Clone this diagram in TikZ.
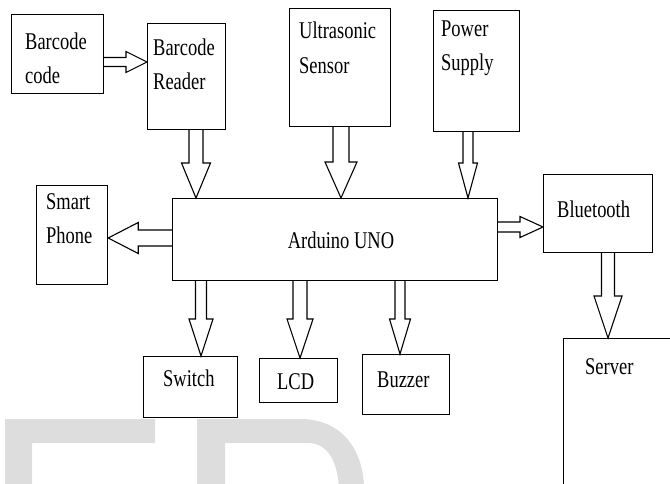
\documentclass[tikz,border=0pt]{standalone}
\usepackage{fontspec}
\setmainfont{Liberation Serif}[FakeStretch=0.77]
\usetikzlibrary{calc}
\definecolor{wmgray}{RGB}{221,221,221}
\tikzset{
  box/.style={draw, line width=1.2pt, inner sep=0pt, anchor=north west},
  lbl/.style={inner sep=0pt, anchor=base west, font=\fontsize{24pt}{34pt}\selectfont},
  arrowline/.style={draw, line width=1.1pt, line join=miter},
  wm/.style={fill=wmgray, draw=none}
}
\newcommand\blockarrow[5]{%
  \coordinate (ba-s) at #1;
  \coordinate (ba-e) at #2;
  \coordinate (ba-h) at ($(ba-e)!#5!(ba-s)$);
  \path[arrowline] ($(ba-s)!#3!90:(ba-e)$) -- ($(ba-h)!#3!90:(ba-e)$)
    -- ($(ba-h)!#4!90:(ba-e)$) -- (ba-e) -- ($(ba-h)!#4!-90:(ba-e)$)
    -- ($(ba-h)!#3!-90:(ba-e)$) -- ($(ba-s)!#3!-90:(ba-e)$);}
\begin{document}
\begin{tikzpicture}[x=1pt,y=-1pt]
\useasboundingbox (0,0) rectangle (670,483);
\clip (0,0) rectangle (670,483);
% watermark
\fill[wm] (5,490) -- (5,419) -- (155,419) -- (155,443) -- (32,443) -- (32,490) -- cycle;
\fill[wm] (197,490) -- (197,419) -- (300,419) .. controls (342,419) and (364,450) .. (364,490)
  -- (339,490) .. controls (338,462) and (328,443) .. (308,443) -- (225,443) -- (225,490) -- cycle;
% boxes
\node[box, minimum width=92pt, minimum height=79pt] (bc) at (11,14) {};
\node[box, minimum width=78pt, minimum height=106pt] (rd) at (147,23) {};
\node[box, minimum width=101pt, minimum height=118pt] (us) at (289,8) {};
\node[box, minimum width=86pt, minimum height=121pt] (ps) at (433,10) {};
\node[box, minimum width=71pt, minimum height=99pt] (sp) at (36,185) {};
\node[box, minimum width=325pt, minimum height=82pt] (ard) at (172,198) {};
\node[box, minimum width=109pt, minimum height=78pt] (bt) at (543,174) {};
\node[box, minimum width=94pt, minimum height=61pt] (sw) at (143,356) {};
\node[box, minimum width=78pt, minimum height=44pt] (lcd) at (259,358) {};
\node[box, minimum width=87pt, minimum height=60pt] (bz) at (362,354) {};
\node[box, minimum width=130pt, minimum height=170pt] (sv) at (563,338) {};
% labels
\node[lbl] (bc-a) at ($(bc.north west)+(14,35)$) {Barcode};
\node[lbl] (bc-b) at ($(bc.north west)+(14,69)$) {code};
\node[lbl] (rd-a) at ($(rd.north west)+(6,32)$) {Barcode};
\node[lbl] (rd-b) at ($(rd.north west)+(6,66)$) {Reader};
\node[lbl] (us-a) at ($(us.north west)+(10,30)$) {Ultrasonic};
\node[lbl] (us-b) at ($(us.north west)+(10,65)$) {Sensor};
\node[lbl] (ps-a) at ($(ps.north west)+(8,26)$) {Power};
\node[lbl] (ps-b) at ($(ps.north west)+(8,60)$) {Supply};
\node[lbl] (sp-a) at ($(sp.north west)+(10,24)$) {Smart};
\node[lbl] (sp-b) at ($(sp.north west)+(10,58)$) {Phone};
\node[lbl, anchor=base] (ard-a) at ($(ard.north west)+(169,50)$) {Arduino UNO};
\node[lbl] (bt-a) at ($(bt.north west)+(14,43)$) {Bluetooth};
\node[lbl] (sw-a) at ($(sw.north west)+(20,30)$) {Switch};
\node[lbl] (lcd-a) at ($(lcd.north west)+(18,31)$) {LCD};
\node[lbl] (bz-a) at ($(bz.north west)+(15,33)$) {Buzzer};
\node[lbl] (sv-a) at ($(sv.north west)+(22,36)$) {Server};
% block arrows
\blockarrow{($(bc.north east)+(0,48)$)}{($(rd.north west)+(0,39)$)}{4.5pt}{10.5pt}{21pt}
\blockarrow{($(rd.south west)+(49,0)$)}{($(ard.north west)+(24,0)$)}{7pt}{14.5pt}{35pt}
\blockarrow{($(us.south west)+(52,0)$)}{($(ard.north west)+(169,0)$)}{8pt}{16pt}{36pt}
\blockarrow{($(ps.south west)+(35,0)$)}{($(ard.north west)+(296,0)$)}{5pt}{9.5pt}{35pt}
\blockarrow{($(ard.north west)+(0,40)$)}{($(sp.north east)+(0,53)$)}{8pt}{15.5pt}{30pt}
\blockarrow{($(ard.north east)+(0,29)$)}{($(bt.north west)+(0,53)$)}{5pt}{10.5pt}{23pt}
\blockarrow{($(ard.south west)+(29,0)$)}{($(sw.north west)+(58,0)$)}{5.5pt}{12pt}{37pt}
\blockarrow{($(ard.south west)+(128,0)$)}{($(lcd.north west)+(41,0)$)}{7pt}{13pt}{39pt}
\blockarrow{($(ard.south west)+(228,0)$)}{($(bz.north west)+(38,0)$)}{5pt}{10.5pt}{35pt}
\blockarrow{($(bt.south west)+(65,0)$)}{($(sv.north west)+(45,0)$)}{6.5pt}{14pt}{42pt}
\end{tikzpicture}
\end{document}
